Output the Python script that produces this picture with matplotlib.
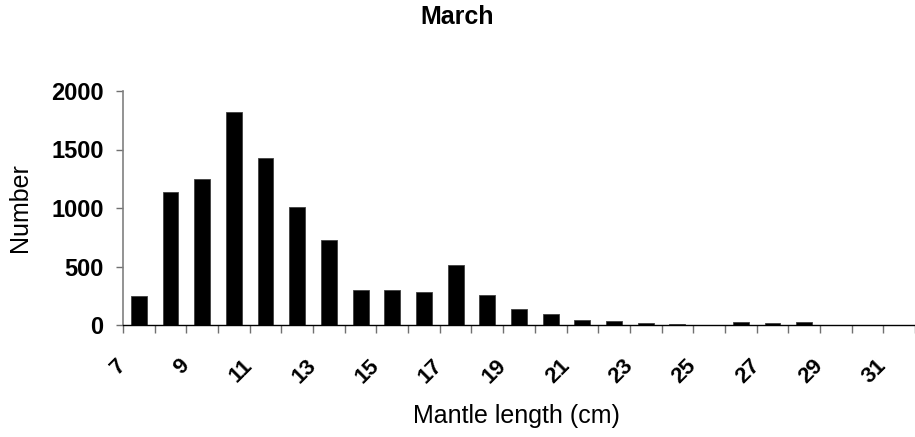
import matplotlib
matplotlib.use("Agg")
import matplotlib.pyplot as plt

# Data
lengths = list(range(7, 32))
counts = [250, 1140, 1250, 1820, 1425, 1010, 730, 295, 295, 285, 510, 260,
          135, 95, 40, 35, 17, 12, 0, 23, 13, 28, 0, 0, 0]
y_ticks = [0, 500, 1000, 1500, 2000]
x_tick_values = list(range(7, 33))
x_tick_labels = [str(v) if v % 2 == 1 else "" for v in x_tick_values]

plt.rcParams['font.family'] = ['Liberation Sans', 'DejaVu Sans']

W, H = 915, 437
fig = plt.figure(figsize=(W / 100, H / 100), dpi=100)
ax = fig.add_axes([123 / W, 1 - 325 / H, (915 - 123) / W, (325 - 91) / H])

ax.bar([v + 0.5 for v in lengths], counts, width=0.5, color='black',
       edgecolor='#404040', linewidth=0.6)

ax.set_xlim(7, 32)
ax.set_ylim(0, 2000)

ax.set_yticks(y_ticks)
ax.set_yticklabels([str(v) for v in y_ticks], fontsize=17, fontweight='bold')
ax.set_xticks(x_tick_values)
ax.set_xticklabels(x_tick_labels, fontsize=16, fontweight='bold', rotation=45,
                   ha='right', va='center', rotation_mode='anchor')

ax.tick_params(axis='y', direction='out', length=5, width=1, color='#707070', pad=9)
ax.tick_params(axis='x', direction='out', length=6, width=1, color='#707070', pad=21)

for s in ['top', 'right']:
    ax.spines[s].set_visible(False)
ax.spines['left'].set_color('#808080')
ax.spines['left'].set_linewidth(1.2)
ax.spines['bottom'].set_color('black')
ax.spines['bottom'].set_linewidth(1.0)

fig.text(457.5 / W, 1 - 17 / H, 'March', ha='center', va='center',
         fontsize=18, fontweight='bold')
fig.text(516 / W, 1 - 416 / H, 'Mantle length (cm)', ha='center', va='center',
         fontsize=18)
fig.text(20 / W, 1 - 208 / H, 'Number', ha='center', va='center',
         fontsize=18, rotation=90)

fig.savefig('out.png', dpi=100)
